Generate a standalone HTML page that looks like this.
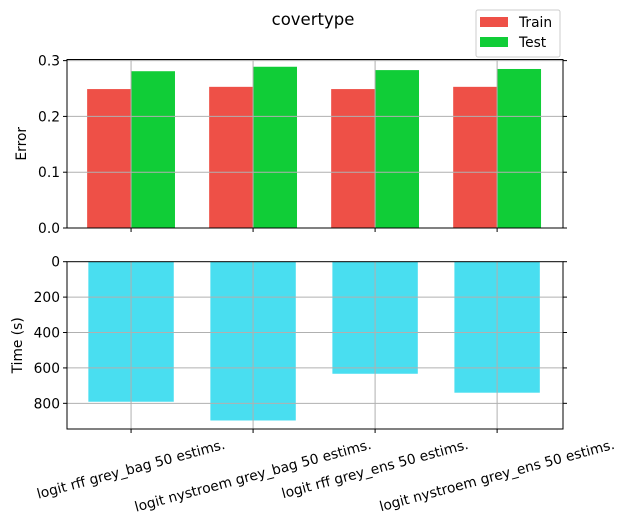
<!DOCTYPE html>
<html><head><meta charset="utf-8"><style>
body{margin:0;background:#fff}
svg{display:block;font-family:"DejaVu Sans","Liberation Sans",sans-serif}
</style></head><body>
<svg id="c" width="626" height="526" viewBox="0 0 626 526"></svg>
<script>
const categories=["logit rff grey_bag 50 estims.","logit nystroem grey_bag 50 estims.","logit rff grey_ens 50 estims.","logit nystroem grey_ens 50 estims."];
const trainErr=[0.249,0.253,0.249,0.253];
const testErr=[0.281,0.289,0.283,0.285];
const timeVals=[791,897,633,740];
const errTicks=[0,0.1,0.2,0.3];
const timeTicks=[0,200,400,600,800];
const NS="http://www.w3.org/2000/svg";
const svg=document.getElementById('c');
const FS=13.8;
function el(t,a,p){const e=document.createElementNS(NS,t);for(const k in a)e.setAttribute(k,a[k]);(p||svg).appendChild(e);return e;}
const L=67,R=563;
const xs=i=>L+(i+0.525)*(R-L)/4.065;
const step=(R-L)/4.065;
const T1=59.5,B1=228,yE=v=>B1-(v/0.302)*(B1-T1);
const T2=261.7,B2=429,yT=v=>T2+v*(B2-T2)/945;
let t=el('text',{x:313,y:25,'text-anchor':'middle','font-size':16.5,fill:'#000'});t.textContent='covertype';

const g1=el('g',{});
categories.forEach((c,i)=>{
 let r=el('rect',{x:xs(i)-0.36*step,y:yE(trainErr[i]),width:0.36*step,height:B1-yE(trainErr[i]),fill:'#ee5047'},g1);
 
 r=el('rect',{x:xs(i),y:yE(testErr[i]),width:0.36*step,height:B1-yE(testErr[i]),fill:'#10cd37'},g1);
 
});
errTicks.forEach(v=>{
 const y=yE(v);
 el('line',{x1:L,x2:R,y1:y,y2:y,stroke:'#b0b0b0','stroke-width':1},g1);
 el('line',{x1:L-4,x2:L,y1:y,y2:y,stroke:'#000'},g1);
 el('line',{x1:R,x2:R+4,y1:y,y2:y,stroke:'#000'},g1);
 const tx=el('text',{x:L-7,y:y+5,'text-anchor':'end','font-size':FS},g1);tx.textContent=v.toFixed(1);
 
});
categories.forEach((c,i)=>{
 el('line',{x1:xs(i),x2:xs(i),y1:T1,y2:B1,stroke:'#b0b0b0'},g1);
 el('line',{x1:xs(i),x2:xs(i),y1:B1,y2:B1+4,stroke:'#000'},g1);
});
el('rect',{x:L,y:T1,width:R-L,height:B1-T1,fill:'none',stroke:'#000','stroke-width':1},g1);
t=el('text',{x:0,y:0,'text-anchor':'middle','font-size':FS,transform:`translate(26,${(T1+B1)/2}) rotate(-90)`},g1);t.textContent='Error';

const lg=el('g',{});
el('rect',{x:476,y:10,width:84,height:47,rx:2,fill:'#fff',stroke:'#ccc'},lg);
el('rect',{x:480,y:17,width:28,height:10,fill:'#ee5047'},lg);
el('rect',{x:480,y:37,width:28,height:10,fill:'#10cd37'},lg);
t=el('text',{x:519,y:27,'font-size':FS},lg);t.textContent='Train';
t=el('text',{x:519,y:47,'font-size':FS},lg);t.textContent='Test';
const g2=el('g',{});
categories.forEach((c,i)=>{
 const r=el('rect',{x:xs(i)-0.35*step,y:T2,width:0.7*step,height:yT(timeVals[i])-T2,fill:'#49def0'},g2);
 
});
timeTicks.forEach(v=>{
 const y=yT(v);
 if(v>0)el('line',{x1:L,x2:R,y1:y,y2:y,stroke:'#b0b0b0'},g2);
 el('line',{x1:L-4,x2:L,y1:y,y2:y,stroke:'#000'},g2);
 el('line',{x1:R,x2:R+4,y1:y,y2:y,stroke:'#000'},g2);
 const tx=el('text',{x:L-7,y:y+5,'text-anchor':'end','font-size':FS},g2);tx.textContent=v;
 
});
categories.forEach((c,i)=>{
 el('line',{x1:xs(i),x2:xs(i),y1:T2,y2:B2,stroke:'#b0b0b0'},g2);
 el('line',{x1:xs(i),x2:xs(i),y1:B2,y2:B2+4,stroke:'#000'},g2);
 const tx=el('text',{x:0,y:0,'text-anchor':'middle','dominant-baseline':'central','font-size':FS},g2);
 tx.textContent=c;
 
 const len=tx.getComputedTextLength();
 const cy=438+(len*0.259+FS*0.966)/2;
 tx.setAttribute('transform',`translate(${xs(i)},${cy}) rotate(-15)`);
});
el('rect',{x:L,y:T2,width:R-L,height:B2-T2,fill:'none',stroke:'#000'},g2);
t=el('text',{x:0,y:0,'text-anchor':'middle','font-size':FS,transform:`translate(22,${(T2+B2)/2}) rotate(-90)`},g2);t.textContent='Time (s)';

</script>
</body></html>
